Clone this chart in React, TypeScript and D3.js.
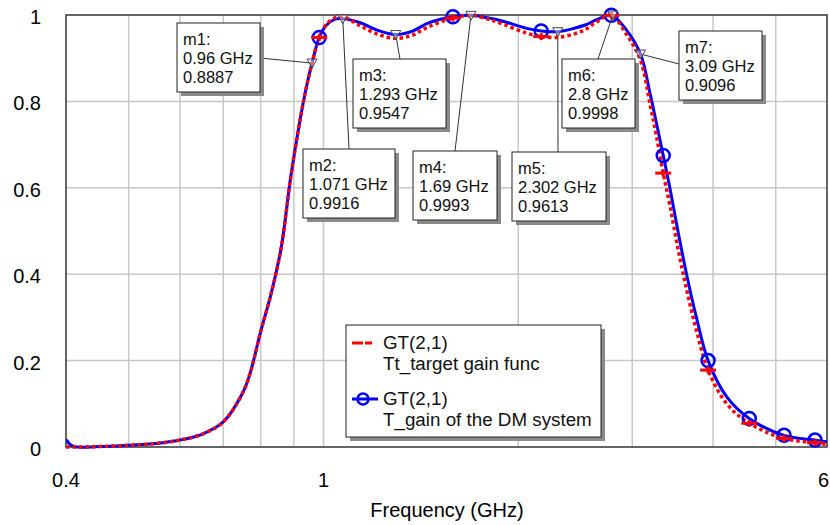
import { useRef, useEffect } from "react";
import * as d3 from "d3";

// sweep frequencies (GHz) shared by both traces
const freqs = [
    0.4, 0.41, 0.45, 0.5, 0.55, 0.6, 0.65, 0.7, 0.75, 0.77,
    0.8, 0.83, 0.86, 0.89, 0.92, 0.94, 0.96, 0.985, 1.01, 1.04,
    1.071, 1.14, 1.21, 1.293, 1.37, 1.45, 1.585, 1.69, 1.8, 1.9,
    2.06, 2.17, 2.302, 2.45, 2.55, 2.65, 2.785, 2.94, 3.09, 3.2,
    3.27, 3.35, 3.43, 3.53, 3.64, 3.77, 3.93, 4.2, 4.55, 5.15,
    5.75, 6.0,
];

// Tt_target gain func
const targetGain = [
    0, 0, 0.001, 0.004, 0.008, 0.016, 0.03, 0.058, 0.125, 0.17,
    0.268, 0.355, 0.46, 0.625, 0.757, 0.83, 0.888, 0.948, 0.978, 0.993,
    0.996, 0.975, 0.956, 0.946, 0.953, 0.972, 0.993, 0.999, 0.99, 0.978,
    0.958, 0.95, 0.948, 0.957, 0.968, 0.985, 0.999, 0.955, 0.895, 0.79,
    0.72, 0.634, 0.56, 0.46, 0.365, 0.27, 0.178, 0.1, 0.055, 0.02,
    0.01, 0.006,
];

// T_gain of the DM system
const dmGain = [
    0.017, 0.002, 0.001, 0.004, 0.008, 0.016, 0.03, 0.058, 0.125, 0.17,
    0.268, 0.355, 0.46, 0.625, 0.757, 0.83, 0.8887, 0.948, 0.976, 0.99,
    0.9916, 0.982, 0.965, 0.9547, 0.962, 0.981, 0.996, 0.9993, 0.993, 0.985,
    0.969, 0.963, 0.9613, 0.97, 0.978, 0.99, 0.9995, 0.965, 0.9096, 0.815,
    0.75, 0.675, 0.6, 0.5, 0.4, 0.3, 0.2, 0.116, 0.066, 0.027,
    0.016, 0.012,
];

// frequencies where the trace symbols sit
const symbolFreqs = [0.985, 1.585, 2.17, 2.785, 3.35, 3.93, 4.55, 5.15, 5.75];

// marker readouts
const markerNames = ["m1", "m2", "m3", "m4", "m5", "m6", "m7"];
const markerFreqs = [0.96, 1.071, 1.293, 1.69, 2.302, 2.8, 3.09];
const markerValues = [0.8887, 0.9916, 0.9547, 0.9993, 0.9613, 0.9998, 0.9096];

const yTicks = [0, 0.2, 0.4, 0.6, 0.8, 1];
const xTickLabels = [0.4, 1, 6];
const xGrid = [0.5, 0.6, 0.7, 0.8, 0.9, 1, 2, 3, 4, 5];

const legendItems = [
    { name: "GT(2,1)", desc: "Tt_target gain func" },
    { name: "GT(2,1)", desc: "T_gain of the DM system" },
];

// callout box placement (pixels) and where the leader line leaves the box
const callouts = [
    { left: 177, top: 23, w: 83, ax: 260, ay: 58 },
    { left: 303, top: 149, w: 92, ax: 349, ay: 149 },
    { left: 353, top: 59, w: 93, ax: 400, ay: 59 },
    { left: 413, top: 151, w: 84, ax: 455, ay: 151 },
    { left: 512, top: 152, w: 94, ax: 558, ay: 152 },
    { left: 562, top: 59, w: 73, ax: 598, ay: 59 },
    { left: 679, top: 31, w: 83, ax: 679, ay: 64 },
];

const FONT = "'Liberation Sans', Arial, sans-serif";
const WIDTH = 830;
const HEIGHT = 525;

export default function App() {
    const svgRef = useRef<SVGSVGElement | null>(null);

    useEffect(() => {
        if (!svgRef.current) return;
        const svg = d3.select(svgRef.current);
        svg.selectAll("*").remove();

        const margin = { top: 15, right: 3, bottom: 78, left: 66 };
        const x = d3.scaleLog().domain([0.4, 6]).range([margin.left, WIDTH - margin.right]);
        const y = d3.scaleLinear().domain([0, 1]).range([HEIGHT - margin.bottom, margin.top]);
        const [x0, x1] = x.range();
        const [y0, y1] = y.range();

        svg.append("rect").attr("width", WIDTH).attr("height", HEIGHT).attr("fill", "#fff");

        // grid
        svg.append("g")
            .selectAll("line")
            .data(xGrid)
            .enter()
            .append("line")
            .attr("x1", d => x(d)).attr("x2", d => x(d))
            .attr("y1", y1).attr("y2", y0)
            .attr("stroke", "#c8c8c8").attr("stroke-width", 1.5);
        svg.append("g")
            .selectAll("line")
            .data(yTicks.slice(1, -1))
            .enter()
            .append("line")
            .attr("x1", x0).attr("x2", x1)
            .attr("y1", d => y(d)).attr("y2", d => y(d))
            .attr("stroke", "#c8c8c8").attr("stroke-width", 1.5);

        // frame
        svg.append("rect")
            .attr("x", x0).attr("y", y1)
            .attr("width", x1 - x0).attr("height", y0 - y1)
            .attr("fill", "none").attr("stroke", "#333").attr("stroke-width", 1.5);

        // tick labels
        svg.append("g")
            .selectAll("text")
            .data(yTicks)
            .enter()
            .append("text")
            .attr("x", 41).attr("y", d => y(d) + 9)
            .attr("text-anchor", "end")
            .attr("font-family", FONT).attr("font-size", 20)
            .text(d => String(d));
        svg.append("g")
            .selectAll("text")
            .data(xTickLabels)
            .enter()
            .append("text")
            // last label hugs the right edge so it is not clipped
            .attr("x", (d, i) => (i === xTickLabels.length - 1 ? WIDTH - 1 : x(d)))
            .attr("y", 487)
            .attr("text-anchor", (_d, i) => (i === xTickLabels.length - 1 ? "end" : "middle"))
            .attr("font-family", FONT).attr("font-size", 20)
            .text(d => String(d));
        svg.append("text")
            .attr("x", 447).attr("y", 517)
            .attr("text-anchor", "middle")
            .attr("font-family", FONT).attr("font-size", 20)
            .text("Frequency (GHz)");

        // traces
        svg.append("clipPath").attr("id", "plotClip")
            .append("rect")
            .attr("x", x0).attr("y", y1 - 3)
            .attr("width", x1 - x0).attr("height", y0 - y1 + 5);

        const line = d3.line<number>()
            .x((_d, i) => x(freqs[i]))
            .y(d => y(d))
            .curve(d3.curveCatmullRom.alpha(0.5));

        const traces = svg.append("g").attr("clip-path", "url(#plotClip)");
        traces.append("path")
            .attr("d", line(dmGain))
            .attr("fill", "none").attr("stroke", "#0000ff").attr("stroke-width", 3);
        traces.append("path")
            .attr("d", line(targetGain))
            .attr("fill", "none").attr("stroke", "#ff0000").attr("stroke-width", 3.5)
            .attr("stroke-dasharray", "3.5,3");

        const symIdx = symbolFreqs.map(f => freqs.indexOf(f));

        svg.append("g")
            .selectAll("circle")
            .data(symIdx)
            .enter()
            .append("circle")
            .attr("cx", i => x(freqs[i])).attr("cy", i => y(dmGain[i]))
            .attr("r", 6.5)
            .attr("fill", "none").attr("stroke", "#0000ff").attr("stroke-width", 2.5);

        const plus = svg.append("g").attr("stroke", "#ff0000").attr("stroke-width", 3);
        symIdx.forEach(i => {
            const cx = x(freqs[i]);
            const cy = y(targetGain[i]);
            plus.append("line").attr("x1", cx - 8).attr("x2", cx + 8).attr("y1", cy).attr("y2", cy);
            plus.append("line").attr("x1", cx).attr("x2", cx).attr("y1", cy - 3.5).attr("y2", cy + 3.5);
        });

        // marker callouts
        const boxH = 69;
        markerNames.forEach((name, i) => {
            const c = callouts[i];
            const px = x(markerFreqs[i]);
            const py = y(markerValues[i]);
            const g = svg.append("g");
            g.append("line")
                .attr("x1", c.ax).attr("y1", c.ay).attr("x2", px).attr("y2", py)
                .attr("stroke", "#333").attr("stroke-width", 1);
            g.append("path")
                .attr("d", `M${px - 5},${py - 4}H${px + 5}L${px},${py + 5}Z`)
                .attr("fill", "rgba(255,255,255,0.4)").attr("stroke", "#444").attr("stroke-width", 1);
            g.append("rect")
                .attr("x", c.left + 4).attr("y", c.top + 4)
                .attr("width", c.w).attr("height", boxH)
                .attr("fill", "#8a8a8a");
            g.append("rect")
                .attr("x", c.left).attr("y", c.top)
                .attr("width", c.w).attr("height", boxH)
                .attr("fill", "#fff").attr("stroke", "#222").attr("stroke-width", 1);
            const lines = [`${name}:`, `${markerFreqs[i]} GHz`, String(markerValues[i])];
            lines.forEach((t, k) => {
                g.append("text")
                    .attr("x", c.left + 6).attr("y", c.top + 22 + k * 19)
                    .attr("font-family", FONT).attr("font-size", 16.5)
                    .attr("fill", "#111")
                    .text(t);
            });
        });

        // legend
        const lg = svg.append("g");
        const lgBox = { left: 346, top: 325, w: 255, h: 112 };
        lg.append("rect")
            .attr("x", lgBox.left + 4).attr("y", lgBox.top + 4)
            .attr("width", lgBox.w).attr("height", lgBox.h).attr("fill", "#8a8a8a");
        lg.append("rect")
            .attr("x", lgBox.left).attr("y", lgBox.top)
            .attr("width", lgBox.w).attr("height", lgBox.h)
            .attr("fill", "#fff").attr("stroke", "#222").attr("stroke-width", 1);
        legendItems.forEach((item, k) => {
            const base = lgBox.top + 24 + k * 56;
            const cy = base - 6;
            if (k === 0) {
                lg.append("line")
                    .attr("x1", 352).attr("x2", 372).attr("y1", cy).attr("y2", cy)
                    .attr("stroke", "#ff0000").attr("stroke-width", 3)
                    .attr("stroke-dasharray", "11,2,7");
            } else {
                lg.append("line")
                    .attr("x1", 352).attr("x2", 378).attr("y1", cy).attr("y2", cy)
                    .attr("stroke", "#0000ff").attr("stroke-width", 3);
                lg.append("circle")
                    .attr("cx", 363).attr("cy", cy).attr("r", 5.5)
                    .attr("fill", "none").attr("stroke", "#0000ff").attr("stroke-width", 2.5);
            }
            lg.append("text")
                .attr("x", 383).attr("y", base)
                .attr("font-family", FONT).attr("font-size", 18.8).attr("fill", "#111")
                .text(item.name);
            lg.append("text")
                .attr("x", 383).attr("y", base + 21)
                .attr("font-family", FONT).attr("font-size", 18.8).attr("fill", "#111")
                .text(item.desc);
        });
    }, []);

    return (
        <svg
            ref={svgRef}
            width={WIDTH}
            height={HEIGHT}
            style={{ position: "absolute", left: 0, top: 0 }}
        />
    );
}
